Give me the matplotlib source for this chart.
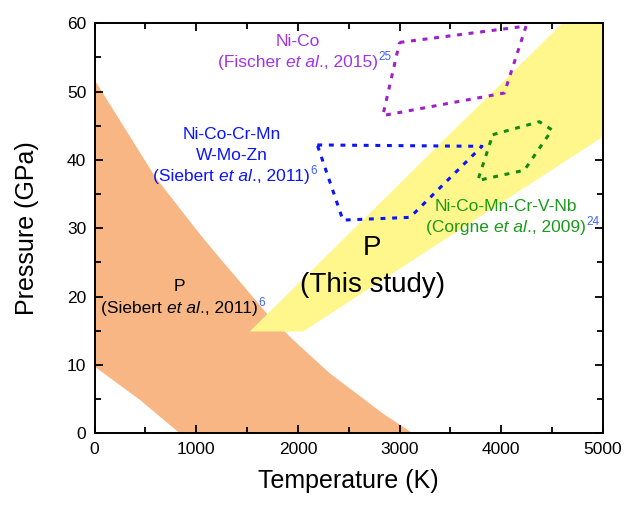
#!/usr/bin/env python3
"""P-T 相図の再現: 各研究の実験条件領域と本研究の範囲．"""

import matplotlib
matplotlib.use("Agg")
import matplotlib.pyplot as plt
from matplotlib.offsetbox import AnnotationBbox, HPacker, TextArea
from matplotlib.ticker import MultipleLocator

plt.rcParams["font.family"] = ["Liberation Sans", "DejaVu Sans"]

# --------------------------------------------------------------------------- #
# データ (T [K], P [GPa])
# --------------------------------------------------------------------------- #
siebert_p_upper_T = [0, 592, 1000, 1165, 1690, 1950, 2311, 2835, 3130]
siebert_p_upper_P = [51.7, 37.6, 29.8, 26.8, 17.6, 13.7, 8.8, 2.9, 0]
siebert_p_lower_T = [838, 445, 0]
siebert_p_lower_P = [0, 4.9, 9.75]

this_study_T = [1525, 2050, 5000, 5000, 4600]
this_study_P = [14.9, 14.9, 43.4, 60, 60]

fischer_T = [2999, 4244, 4030, 2835, 2999]
fischer_P = [57.2, 59.6, 49.8, 46.5, 57.2]

siebert_ni_T = [2190, 3810, 3150, 3097, 2442, 2190]
siebert_ni_P = [42.2, 42.0, 32.3, 31.6, 31.2, 42.2]

corgne_T = [3916, 4374, 4499, 4227, 3769, 3916]
corgne_P = [43.7, 45.6, 44.4, 38.5, 37.0, 43.7]

# --------------------------------------------------------------------------- #
# カラー設定
# --------------------------------------------------------------------------- #
COLOR_ORANGE = "#F7B683"
COLOR_YELLOW = "#FFF68C"
COLOR_PURPLE_LINE = "#A01FC8"
COLOR_PURPLE_TEXT = "#A035E8"
COLOR_BLUE = "#0A14FF"
COLOR_GREEN_LINE = "#128A12"
COLOR_GREEN_TEXT = "#1A9A1A"
COLOR_SUP = "#3F62FF"


def add_ref_line(ax, x, y, author, year, color, sup, size=12.5):
    """「(著者 et al., 年)」を斜体付きで中央揃えに置き，右肩に文献番号を付ける．"""
    parts = [
        TextArea(f"({author} ", textprops=dict(color=color, fontsize=size)),
        TextArea("et al", textprops=dict(color=color, fontsize=size,
                                         style="italic")),
        TextArea(f"., {year})", textprops=dict(color=color, fontsize=size)),
    ]
    box = HPacker(children=parts, align="baseline", pad=0, sep=0)
    ab = AnnotationBbox(box, (x, y), frameon=False, pad=0,
                        box_alignment=(0.5, 0.5), zorder=4)
    ax.add_artist(ab)
    ax.annotate(sup, xy=(1.0, 0.88), xycoords=ab, color=COLOR_SUP,
                fontsize=8.5, ha="left", va="center",
                xytext=(0.5, 0), textcoords="offset points", zorder=4)


fig = plt.figure(figsize=(6.32, 5.09), dpi=100)
ax = fig.add_axes([0.1498, 0.1487, 0.8042, 0.8055])

ax.fill(siebert_p_upper_T + siebert_p_lower_T,
        siebert_p_upper_P + siebert_p_lower_P,
        color=COLOR_ORANGE, lw=0, zorder=1)
ax.fill(this_study_T, this_study_P, color=COLOR_YELLOW, lw=0, zorder=2)

# 点線の領域 (短いダッシュ)
dash = (1.6, 2.2)
ax.plot(fischer_T, fischer_P, color=COLOR_PURPLE_LINE, lw=2.2,
        dashes=dash, zorder=3)
ax.plot(siebert_ni_T, siebert_ni_P, color=COLOR_BLUE, lw=2.2,
        dashes=dash, zorder=3)
ax.plot(corgne_T, corgne_P, color=COLOR_GREEN_LINE, lw=2.2,
        dashes=dash, zorder=3)

kw = dict(fontsize=12.5, ha="center", va="center")
ax.text(2000, 57.3, "Ni-Co", color=COLOR_PURPLE_TEXT, **kw)
add_ref_line(ax, 2000, 54.3, "Fischer", "2015", COLOR_PURPLE_TEXT, "25")

ax.text(1345, 43.8, "Ni-Co-Cr-Mn", color=COLOR_BLUE, **kw)
ax.text(1345, 40.6, "W-Mo-Zn", color=COLOR_BLUE, **kw)
add_ref_line(ax, 1345, 37.6, "Siebert", "2011", COLOR_BLUE, "6")

ax.text(4047, 33.2, "Ni-Co-Mn-Cr-V-Nb", color=COLOR_GREEN_TEXT, **kw)
add_ref_line(ax, 4047, 30.1, "Corgne", "2009", COLOR_GREEN_TEXT, "24")

ax.text(831, 21.5, "P", color="black", **kw)
add_ref_line(ax, 831, 18.2, "Siebert", "2011", "black", "6")

ax.text(2731, 27.1, "P", color="black", fontsize=20, ha="center", va="center")
ax.text(2731, 21.7, "(This study)", color="black", fontsize=20,
        ha="center", va="center")

ax.set_xlim(0, 5000)
ax.set_ylim(0, 60)
ax.xaxis.set_major_locator(MultipleLocator(1000))
ax.xaxis.set_minor_locator(MultipleLocator(500))
ax.yaxis.set_major_locator(MultipleLocator(10))
ax.yaxis.set_minor_locator(MultipleLocator(5))
ax.tick_params(which="both", direction="in", top=True, right=True,
               width=1.3, labelsize=12.5, pad=6)
ax.tick_params(which="major", length=6)
ax.tick_params(which="minor", length=4)
for sp in ax.spines.values():
    sp.set_linewidth(1.4)
    sp.set_zorder(5)

ax.set_xlabel("Temperature (K)", fontsize=18, labelpad=9)
ax.set_ylabel("Pressure (GPa)", fontsize=18, labelpad=20)

fig.savefig("out.png", dpi=100)
